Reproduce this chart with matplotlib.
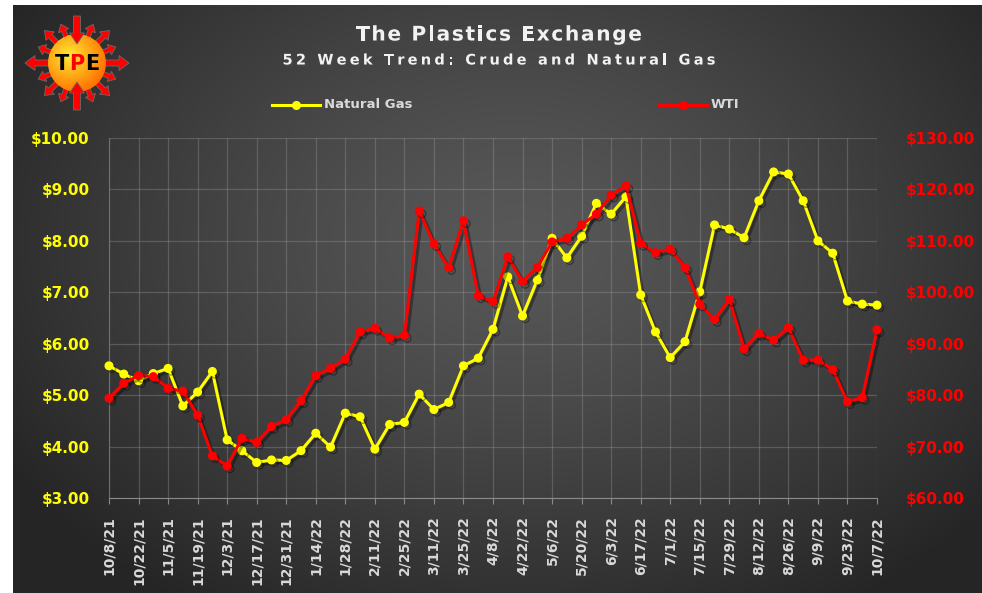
import numpy as np
import matplotlib
matplotlib.use("Agg")
import matplotlib.pyplot as plt
import matplotlib.patheffects as pe
from matplotlib.lines import Line2D
from matplotlib.patches import Circle, FancyArrow

# weekly prices, 10/8/21 .. 10/7/22
weeks = np.arange(53)
natural_gas = [5.57, 5.41, 5.28, 5.42, 5.52, 4.79, 5.06, 5.46, 4.13, 3.92,
               3.69, 3.74, 3.73, 3.92, 4.26, 3.99, 4.65, 4.58, 3.95, 4.43,
               4.47, 5.02, 4.72, 4.86, 5.57, 5.72, 6.28, 7.30, 6.54, 7.24,
               8.05, 7.67, 8.09, 8.73, 8.52, 8.86, 6.95, 6.23, 5.73, 6.04,
               7.01, 8.31, 8.23, 8.06, 8.78, 9.34, 9.30, 8.78, 8.00, 7.76,
               6.83, 6.77, 6.75]
wti = [79.4, 82.3, 83.8, 83.6, 81.3, 80.8, 76.1, 68.2, 66.2, 71.6,
       70.8, 73.9, 75.2, 78.9, 83.8, 85.2, 87.0, 92.3, 93.0, 91.1,
       91.6, 115.8, 109.4, 104.8, 113.9, 99.3, 98.2, 106.9, 102.1, 104.8,
       109.8, 110.5, 113.1, 115.2, 118.9, 120.7, 109.5, 107.7, 108.4, 104.8,
       97.7, 94.7, 98.6, 89.0, 92.0, 90.7, 93.1, 86.8, 86.8, 85.0,
       78.7, 79.5, 92.7]
date_labels = ["10/8/21", "10/22/21", "11/5/21", "11/19/21", "12/3/21",
               "12/17/21", "12/31/21", "1/14/22", "1/28/22", "2/11/22",
               "2/25/22", "3/11/22", "3/25/22", "4/8/22", "4/22/22",
               "5/6/22", "5/20/22", "6/3/22", "6/17/22", "7/1/22",
               "7/15/22", "7/29/22", "8/12/22", "8/26/22", "9/9/22",
               "9/23/22", "10/7/22"]

W, H = 982, 593
YELLOW = "#ffff00"
RED = "#ff0000"
GREY_TXT = "#d9d9d9"

fig = plt.figure(figsize=(W / 100, H / 100), dpi=100, facecolor="white")


def px(x0, y0, w, h):
    # pixel box (top-left origin) -> figure fraction rect
    return [x0 / W, 1 - (y0 + h) / H, w / W, h / H]


# dark panel with a soft radial glow in the middle
bg = fig.add_axes(px(13, 5, W - 13, H - 5))
gy, gx = np.mgrid[0:1:300j, 0:1:500j]
d = np.sqrt(((gx - 0.52) / 0.62) ** 2 + ((gy - 0.6) / 0.75) ** 2)
d = np.clip(d, 0, 1)
inner = np.array([0x58, 0x58, 0x58]) / 255
outer = np.array([0x25, 0x25, 0x25]) / 255
img = inner + (outer - inner) * d[..., None] ** 1.3
bg.imshow(img, aspect="auto", extent=(0, 1, 0, 1), origin="lower")
bg.set_axis_off()

shadow = [pe.SimpleLineShadow(offset=(2, -2), shadow_color="black", alpha=0.35), pe.Normal()]

ax = fig.add_axes(px(109, 138, 768, 360))
ax.set_facecolor("none")
ax.plot(weeks, natural_gas, color=YELLOW, lw=2.2, marker="o", ms=5.5,
        path_effects=shadow, zorder=3, clip_on=False)
ax.set_xlim(0, 52)
ax.set_ylim(3, 10)
ax.set_yticks(np.arange(3, 11, 1))
ax.set_yticklabels([f"${v:.2f}" for v in np.arange(3, 11, 1)])
ax.set_xticks(weeks[::2])
ax.set_xticklabels(date_labels)
ax.grid(True, color="#9a9a9a", alpha=0.35, lw=0.9)
ax.set_axisbelow(True)
for s in ax.spines.values():
    s.set_visible(False)
ax.spines["bottom"].set_visible(True)
ax.spines["bottom"].set_color("#8a8a8a")
ax.spines["left"].set_visible(True)
ax.spines["left"].set_color("#707070")
ax.tick_params(axis="y", length=0, pad=14, labelcolor=YELLOW, labelsize=11)
ax.tick_params(axis="x", length=4, color="#8a8a8a", pad=9, labelcolor=GREY_TXT,
               labelsize=10, labelrotation=90)
for lab in ax.get_xticklabels() + ax.get_yticklabels():
    lab.set_fontweight("bold")

ax2 = ax.twinx()
ax2.set_facecolor("none")
ax2.plot(weeks, wti, color=RED, lw=2.2, marker="o", ms=5.5,
         path_effects=shadow, zorder=3, clip_on=False)
ax2.set_ylim(60, 130)
ax2.set_yticks(np.arange(60, 131, 10))
ax2.set_yticklabels([f"${v:.2f}" for v in np.arange(60, 131, 10)])
for s in ax2.spines.values():
    s.set_visible(False)
ax2.tick_params(axis="y", length=0, pad=21, labelcolor=RED, labelsize=11)
for lab in ax2.get_yticklabels():
    lab.set_fontweight("bold")

# titles with wide letter spacing
renderer = fig.canvas.get_renderer()


def spaced_text(s, cx, cy, width, **kw):
    base = fig.text(0, 0, "xx", **kw)
    base_w = base.get_window_extent(renderer).width
    base.remove()
    widths = []
    for ch in s:
        t = fig.text(0, 0, "x" + ch + "x", **kw)
        widths.append(t.get_window_extent(renderer).width - base_w)
        t.remove()
    gap = (width - sum(widths)) / (len(s) - 1)
    x = cx - width / 2
    for ch, w in zip(s, widths):
        if ch != " ":
            fig.text(x / W, 1 - cy / H, ch, ha="left", va="center", **kw)
        x += w + gap


title_fx = [pe.SimplePatchShadow(offset=(1.5, -1.5), alpha=0.55), pe.Normal()]
spaced_text("The Plastics Exchange", 499, 35, 286, fontsize=14.5,
            fontweight="bold", color="#f2f2f2", path_effects=title_fx)
spaced_text("52 Week Trend: Crude and Natural Gas", 499, 60, 433, fontsize=10.5,
            fontweight="bold", color="#f2f2f2", path_effects=title_fx)

# legend
ly = 1 - 105 / H
for x0, x1, col, name in [(272, 320, YELLOW, "Natural Gas"), (659, 707, RED, "WTI")]:
    fig.add_artist(Line2D([x0 / W, x1 / W], [ly, ly], color=col, lw=2.2,
                          transform=fig.transFigure))
    fig.add_artist(Line2D([(x0 + x1) / 2 / W], [ly], color=col, marker="o", ms=5.5,
                          transform=fig.transFigure))
    fig.text((x1 + 4) / W, ly, name, color=GREY_TXT, fontsize=9.5, fontweight="bold",
             ha="left", va="center")

# TPE logo
lax = fig.add_axes(px(22, 13, 110, 100))
lax.set_xlim(-55, 55)
lax.set_ylim(-50, 50)
lax.set_axis_off()
arrow_kw = dict(fc=RED, ec="#6a6a6a", lw=0.6, length_includes_head=True)
for ang in np.arange(0, 360, 22.5):
    if ang in (90, 270):
        continue
    a = np.radians(ang)
    c, s = np.cos(a), np.sin(a)
    if ang in (0, 180):
        r0, r1, wd, hw, hl = 24, 52, 6, 15, 10
    elif ang % 45 == 0:
        r0, r1, wd, hw, hl = 24, 46, 5, 12, 8
    else:
        r0, r1, wd, hw, hl = 24, 42, 4.5, 11, 7
    lax.add_patch(FancyArrow(r0 * c, r0 * s, (r1 - r0) * c, (r1 - r0) * s,
                             width=wd, head_width=hw, head_length=hl, **arrow_kw))
cy_, cx_ = np.mgrid[-1:1:120j, -1:1:120j]
rr = np.clip(np.sqrt((cx_ + 0.25) ** 2 + (cy_ - 0.25) ** 2) / 1.3, 0, 1)
sun_in = np.array([1.0, 0.92, 0.2])
sun_out = np.array([1.0, 0.45, 0.0])
sun = sun_in + (sun_out - sun_in) * rr[..., None]
disc = Circle((0, 0), 29, transform=lax.transData)
im = lax.imshow(sun, extent=(-29, 29, -29, 29), origin="lower", zorder=2)
im.set_clip_path(disc)
lax.set_xlim(-55, 55)
lax.set_ylim(-50, 50)
for sign in (1, -1):
    lax.add_patch(FancyArrow(0, sign * 47, 0, -sign * 28, width=7, head_width=15,
                             head_length=11, zorder=3, **arrow_kw))
for dx, ch, col in [(-15, "T", "black"), (0, "P", RED), (15, "E", "black")]:
    lax.text(dx, -1, ch, color=col, fontsize=15, fontweight="bold",
             ha="center", va="center", zorder=4)

fig.savefig("out.png", dpi=100, facecolor="white")
